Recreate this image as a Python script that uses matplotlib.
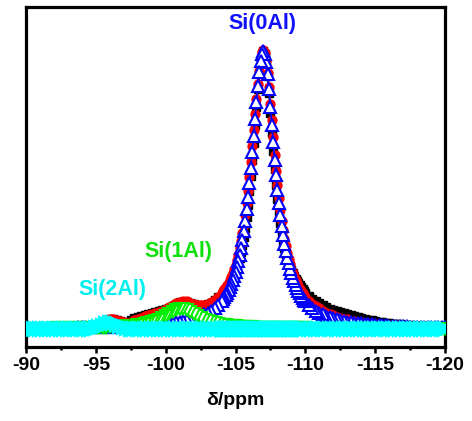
import matplotlib
matplotlib.use("Agg")
import matplotlib.pyplot as plt
from matplotlib.ticker import MultipleLocator

plt.rcParams['font.family'] = ['Liberation Sans', 'DejaVu Sans']

# chemical shift (ppm) sampling positions, read along the axis
ppm = [-90.0, -90.25, -90.5, -90.75, -91.0, -91.25, -91.5, -91.75, -92.0, -92.25,
       -92.5, -92.75, -93.0, -93.25, -93.5, -93.75, -94.0, -94.25, -94.5, -94.75,
       -95.0, -95.25, -95.5, -95.75, -96.0, -96.25, -96.5, -96.75, -97.0, -97.25,
       -97.5, -97.75, -98.0, -98.25, -98.5, -98.75, -99.0, -99.25, -99.5, -99.75,
       -100.0, -100.25, -100.5, -100.75, -101.0, -101.25, -101.5, -101.75, -102.0, -102.25,
       -102.5, -102.75, -103.0, -103.25, -103.5, -103.75,
       -104.0, -104.1, -104.2, -104.3, -104.4, -104.5, -104.6, -104.7, -104.8, -104.9,
       -105.0, -105.1, -105.2, -105.3, -105.4, -105.5, -105.6, -105.7, -105.8, -105.9,
       -106.0, -106.1, -106.2, -106.3, -106.4, -106.5, -106.6, -106.7, -106.8, -106.9,
       -107.0, -107.1, -107.2, -107.3, -107.4, -107.5, -107.6, -107.7, -107.8, -107.9,
       -108.0, -108.1, -108.2, -108.3, -108.4, -108.5, -108.6, -108.7, -108.8, -108.9,
       -109.0, -109.1, -109.2, -109.3, -109.4, -109.5, -109.6, -109.7, -109.8, -109.9,
       -110.0,
       -110.25, -110.5, -110.75, -111.0, -111.25, -111.5, -111.75, -112.0, -112.25, -112.5,
       -112.75, -113.0, -113.25, -113.5, -113.75, -114.0, -114.25, -114.5, -114.75, -115.0,
       -115.25, -115.5, -115.75, -116.0, -116.25, -116.5, -116.75, -117.0, -117.25, -117.5,
       -117.75, -118.0, -118.25, -118.5, -118.75, -119.0, -119.25, -119.5, -119.75, -120.0]

# experimental spectrum (black squares)
experimental = [1.3, 1.4, 1.4, 1.5, 1.5, 1.6, 1.6, 1.7, 1.8, 1.8,
                1.9, 2.0, 2.1, 2.2, 2.3, 2.4, 2.5, 2.6, 2.9, 3.2,
                3.8, 5.0, 6.7, 8.6, 9.8, 10.0, 9.0, 7.7, 6.8, 6.2,
                9.0, 11.0, 12.5, 13.5, 14.5, 15.5, 16.5, 17.2, 18.3, 19.0,
                20.0, 21.2, 23.1, 25.4, 26.9, 27.5, 27.1, 26.0, 24.9, 23.9,
                23.3, 23.7, 24.6, 26.5, 29.0, 31.8,
                32, 34, 36, 38, 40.5, 43, 46, 48.5, 51, 54,
                57.5, 61.5, 66, 71.5, 77.5, 84.5, 92.5, 101.5, 112, 124.5,
                138, 153, 169, 186.5, 204, 222, 240, 255, 267.5, 275.5,
                278, 275, 266, 253, 236, 216.5, 196.5, 178, 160, 144,
                130, 117, 106, 97, 88.5, 81, 75, 70, 66, 62.5,
                59, 56, 53, 50.5, 48, 46, 44, 42, 40, 38,
                36,
                33, 30.5, 28, 26, 24, 22, 20.5, 19, 18, 17,
                16, 15, 14.2, 13.3, 12.2, 11, 10.2, 9.5, 8.7, 8,
                7.5, 7, 6.5, 6, 5.5, 5, 4.7, 4.4, 4, 3.6,
                3.3, 3, 2.8, 2.6, 2.4, 2.2, 2.1, 2, 1.9, 1.8]

# cumulative fit (red circles)
fit_sum = [1.3, 1.4, 1.4, 1.5, 1.5, 1.6, 1.6, 1.7, 1.8, 1.8,
           1.9, 2.0, 2.1, 2.2, 2.3, 2.4, 2.5, 2.6, 2.9, 3.2,
           3.8, 5.0, 6.7, 8.6, 9.8, 10.0, 9.0, 7.7, 6.8, 6.2,
           7.2, 8.7, 10.2, 11.4, 12.8, 13.8, 15.1, 16.0, 17.3, 18.3,
           19.6, 21.7, 23.6, 25.9, 27.4, 28.0, 27.6, 26.5, 25.4, 24.4,
           23.8, 24.2, 25.1, 27.0, 29.5, 32.3,
           36.2, 38.0, 39.8, 41.6, 43.9, 46.3, 49.1, 52.5, 55.8, 59.7,
           64.1, 69.0, 74.4, 80.8, 87.7, 95.6, 104.5, 114.4, 125.9, 138.3,
           151.7, 166.7, 182.6, 199.0, 215.5, 230.4, 245.4, 258.3, 269.8, 276.8,
           279.2, 276.4, 268.4, 256.1, 241.8, 225.4, 209.4, 191.6, 174.5, 158.5,
           143.9, 130.7, 118.8, 108.1, 98.7, 90.3, 82.9, 76.3, 70.3, 65.0,
           60.3, 56.1, 52.3, 48.9, 45.7, 42.9, 40.4, 38.1, 36.0, 34.1,
           32.4,
           28.4, 25.4, 22.9, 20.9, 18.0, 16.5, 15.2, 14.1, 12.1, 11.2,
           10.5, 9.8, 8.2, 7.7, 7.3, 6.9, 6.5, 6.2, 5.8, 5.5,
           4.7, 4.5, 4.3, 4.1, 3.9, 3.7, 3.6, 3.5, 3.3, 3.2,
           3.1, 3.0, 2.8, 2.7, 2.6, 2.5, 2.4, 2.4, 2.3, 2.2]

# Si(0Al) component (blue triangles)
si_0al = [1.0, 1.0, 1.0, 1.1, 1.1, 1.1, 1.2, 1.2, 1.2, 1.3,
          1.3, 1.4, 1.4, 1.5, 1.5, 1.6, 1.6, 1.7, 1.8, 1.8,
          1.9, 2.0, 2.1, 2.2, 2.3, 2.4, 2.5, 2.6, 2.8, 2.9,
          3.0, 3.2, 3.4, 3.6, 3.8, 4.0, 4.3, 4.6, 4.9, 5.2,
          5.6, 6.0, 6.4, 6.9, 7.5, 8.2, 8.9, 9.7, 10.7, 11.8,
          13.1, 14.6, 16.4, 18.4, 20.9, 23.9,
          28, 30, 32, 34, 36.5, 39, 42, 45.5, 49, 53,
          57.5, 62.5, 68, 74.5, 81.5, 89.5, 98.5, 108.5, 120, 132.5,
          146, 161, 177, 193.5, 210, 227, 243, 257, 268.5, 275.5,
          278, 275.2, 267.3, 255.0, 239.7, 222.4, 204.4, 186.6, 169.5, 153.6,
          139.0, 125.8, 113.9, 103.3, 93.9, 85.5, 78.1, 71.5, 65.6, 60.3,
          55.6, 51.4, 47.6, 44.2, 41.1, 38.3, 35.8, 33.5, 31.4, 29.5,
          27.8,
          23.9, 20.9, 18.4, 16.4, 14.6, 13.1, 11.8, 10.7, 9.7, 8.9,
          8.2, 7.5, 6.9, 6.4, 6.0, 5.6, 5.2, 4.9, 4.6, 4.3,
          4.0, 3.8, 3.6, 3.4, 3.2, 3.0, 2.9, 2.8, 2.6, 2.5,
          2.4, 2.3, 2.2, 2.1, 2.0, 1.9, 1.8, 1.8, 1.7, 1.6]

# Si(1Al) component (green)
si_1al = [0.4, 0.4, 0.4, 0.4, 0.4, 0.5, 0.5, 0.5, 0.5, 0.6,
          0.6, 0.6, 0.7, 0.7, 0.8, 0.8, 0.9, 0.9, 1.0, 1.1,
          1.1, 1.2, 1.3, 1.5, 1.6, 1.8, 1.9, 2.1, 2.4, 2.6,
          3.0, 3.4, 3.8, 4.3, 5.0, 5.8, 6.8, 7.9, 9.4, 11.1,
          13.0, 15.2, 17.2, 19.0, 19.9, 19.8, 18.7, 16.8, 14.7, 12.6,
          10.7, 9.1, 7.7, 6.6, 5.6, 4.9,
          4.2, 4.0, 3.8, 3.6, 3.4, 3.3, 3.1, 3.0, 2.8, 2.7,
          2.6, 2.5, 2.4, 2.3, 2.2, 2.1, 2.0, 1.9, 1.9, 1.8,
          1.7, 1.7, 1.6, 1.5, 1.5, 1.4, 1.4, 1.3, 1.3, 1.3,
          1.2, 1.2, 1.1, 1.1, 1.1, 1.0, 1.0, 1.0, 1.0, 0.9,
          0.9, 0.9, 0.9, 0.8, 0.8, 0.8, 0.8, 0.8, 0.7, 0.7,
          0.7, 0.7, 0.7, 0.7, 0.6, 0.6, 0.6, 0.6, 0.6, 0.6,
          0.6,
          0.5, 0.5, 0.5, 0.5, 0.4, 0.4, 0.4, 0.4, 0.4, 0.3,
          0.3, 0.3, 0.3, 0.3, 0.3, 0.3, 0.3, 0.3, 0.2, 0.2,
          0.2, 0.2, 0.2, 0.2, 0.2, 0.2, 0.2, 0.2, 0.2, 0.2,
          0.2, 0.2, 0.1, 0.1, 0.1, 0.1, 0.1, 0.1, 0.1, 0.1]

# Si(2Al) component (cyan)
si_2al = [0, 0, 0, 0, 0, 0, 0, 0, 0, 0,
          0, 0, 0, 0, 0, 0, 0, 0, 0.1, 0.3,
          0.8, 1.8, 3.3, 4.9, 5.9, 5.8, 4.6, 3.0, 1.6, 0.7,
          0.2, 0.1, 0, 0, 0, 0, 0, 0, 0, 0,
          0, 0, 0, 0, 0, 0, 0, 0, 0, 0,
          0, 0, 0, 0, 0, 0,
          0, 0, 0, 0, 0, 0, 0, 0, 0, 0,
          0, 0, 0, 0, 0, 0, 0, 0, 0, 0,
          0, 0, 0, 0, 0, 0, 0, 0, 0, 0,
          0, 0, 0, 0, 0, 0, 0, 0, 0, 0,
          0, 0, 0, 0, 0, 0, 0, 0, 0, 0,
          0, 0, 0, 0, 0, 0, 0, 0, 0, 0,
          0,
          0, 0, 0, 0, 0, 0, 0, 0, 0, 0,
          0, 0, 0, 0, 0, 0, 0, 0, 0, 0,
          0, 0, 0, 0, 0, 0, 0, 0, 0, 0,
          0, 0, 0, 0, 0, 0, 0, 0, 0, 0]

x_ticks = [-90, -95, -100, -105, -110, -115, -120]
x_ticklabels = ['-90', '-95', '-100', '-105', '-110', '-115', '-120']
x_label = 'δ/ppm'
annotations = [('Si(0Al)', -106.9, 306, '#1010ff'),
               ('Si(1Al)', -100.9, 77, '#10e010'),
               ('Si(2Al)', -96.2, 40, '#00f0f0')]

W, H = 472, 421
fig = plt.figure(figsize=(W / 100, H / 100), dpi=100)
ax = fig.add_axes([26 / W, 1 - 347 / H, (445 - 26) / W, (347 - 7) / H])

series = [
    (experimental, dict(color='black', marker='s', ms=5.8, mfc='black', mec='black', mew=1.0)),
    (fit_sum, dict(color='red', marker='o', ms=6.4, mfc='red', mec='red', mew=1.0)),
    (si_0al, dict(color='#0000ff', marker='^', ms=8.8, mfc='white', mec='#0000ff', mew=1.5)),
    (si_1al, dict(color='#00ee00', marker='v', ms=8.8, mfc='white', mec='#00ee00', mew=1.5)),
    (si_2al, dict(color='#00ffff', marker='>', ms=10.5, mfc='#00ffff', mec='#00ffff', mew=1.6)),
]
for i, (vals, st) in enumerate(series):
    ax.plot(ppm[::-1], vals[::-1], lw=1.3, zorder=2 + i, **st)

ax.set_xlim(-90, -120)
ax.set_ylim(-18, 322)
ax.set_yticks([])
ax.set_xticks(x_ticks)
ax.set_xticklabels(x_ticklabels, fontsize=14, fontweight='bold')
ax.xaxis.set_minor_locator(MultipleLocator(2.5))
ax.tick_params(axis='x', which='major', direction='out', length=4, width=1.8, pad=3)
ax.tick_params(axis='x', which='minor', direction='out', length=2.5, width=1.8)
ax.set_xlabel(x_label, fontsize=14, fontweight='bold', labelpad=13)
for sp in ax.spines.values():
    sp.set_linewidth(2.3)

for txt, xx, yy, col in annotations:
    ax.text(xx, yy, txt, color=col, fontsize=15.5, fontweight='bold',
            ha='center', va='center', zorder=10)

fig.savefig('out.png', dpi=100)
